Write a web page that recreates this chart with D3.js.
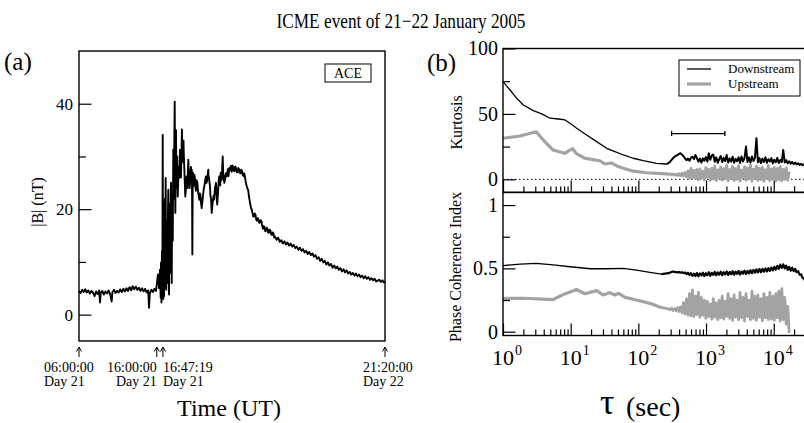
<!DOCTYPE html>
<html lang="en">
<head>
<meta charset="UTF-8">
<title>ICME event of 21-22 January 2005</title>
<script src="https://d3js.org/d3.v7.min.js"></script>
<style>
  body { margin: 0; background: #fff; }
  svg { display: block; }
  .axis path { display: none; }
  .axis line { stroke: #000; stroke-width: 1.2; }
  .axis text { fill: #000; }
</style>
</head>
<body>
<svg width="804" height="423"></svg>
<script>
// ---- panel (a): ACE |B| time series, time in hours from 00:00 Day 21 ----
const bTime = [
  6.0, 6.2, 6.4, 6.6, 6.8, 7.0, 7.2, 7.4, 7.6, 7.8, 8.0, 8.2, 8.4, 8.6, 8.7, 8.8, 9.0, 9.2, 9.4, 9.6,
  9.8, 10.0, 10.2, 10.3, 10.5, 10.7, 10.9, 11.1, 11.3, 11.5, 11.7, 11.9, 12.1, 12.3, 12.5, 12.7, 12.9, 13.1, 13.3, 13.5,
  13.7, 13.9, 14.1, 14.3, 14.5, 14.7, 14.9, 15.0, 15.1, 15.3, 15.5, 15.7, 15.9,
  16.15, 16.30, 16.41, 16.50, 16.54, 16.60, 16.66, 16.71, 16.76, 16.80, 16.84, 16.88, 16.93, 16.98, 17.03, 17.08,
  17.14, 17.18, 17.22, 17.27, 17.31, 17.36, 17.40, 17.44, 17.48, 17.53, 17.57, 17.62, 17.66, 17.70, 17.74, 17.79,
  17.83, 17.88, 17.92, 17.96, 17.99, 18.05, 18.12, 18.17, 18.21, 18.26, 18.30, 18.34, 18.38, 18.43, 18.47, 18.52,
  18.56, 18.62, 18.69, 18.75, 18.81, 18.90, 18.98, 19.04, 19.10, 19.17, 19.23, 19.28, 19.33, 19.38, 19.43, 19.48,
  19.53, 19.60, 19.66, 19.75, 19.84, 19.89, 19.94, 20.00, 20.05, 20.11, 20.16, 20.22, 20.27, 20.33, 20.40, 20.45,
  20.49, 20.53, 20.57, 20.61, 20.65, 20.72, 20.78, 20.85, 20.91, 20.98, 21.04, 21.12, 21.21, 21.27, 21.33, 21.40,
  21.46, 21.54, 21.62, 21.70, 21.77, 21.82, 21.87, 21.93, 21.98, 22.05, 22.13, 22.22, 22.32, 22.38, 22.45, 22.54,
  22.62, 22.66, 22.71, 22.78, 22.84, 22.90, 22.97, 23.02, 23.06, 23.13, 23.20, 23.28, 23.35, 23.42, 23.48, 23.55,
  23.61, 23.66, 23.70, 23.77, 23.84, 23.90, 23.97, 24.03, 24.10, 24.15, 24.21, 24.28, 24.34, 24.40, 24.47, 24.53,
  24.60, 24.68, 24.77, 24.84, 24.90, 24.98, 25.06, 25.14, 25.22, 25.31, 25.41, 25.52, 25.63, 25.72, 25.80, 25.90,
  25.99, 26.08, 26.18, 26.28, 26.38, 26.47, 26.57, 26.66, 26.76, 26.85, 26.95, 27.04, 27.14, 27.24, 27.34, 27.43,
  27.53, 27.64, 27.76, 27.84, 27.91, 28.01, 28.11, 28.20, 28.30, 28.40, 28.49, 28.59, 28.69, 28.78, 28.88, 28.97,
  29.07, 29.17, 29.27, 29.36, 29.46, 29.55, 29.65, 29.75, 29.84, 29.94, 30.04, 30.13, 30.23, 30.33, 30.42, 30.52,
  30.61, 30.71, 30.81, 30.90, 31.00, 31.10,
  31.2, 31.4, 31.6, 31.8, 32.0, 32.2, 32.4, 32.6, 32.8, 33.0, 33.2, 33.4, 33.6, 33.8, 34.0, 34.2, 34.4, 34.6, 34.8, 35.0,
  35.2, 35.4, 35.6, 35.8, 36.0, 36.2, 36.4, 36.6, 36.8, 37.0, 37.2, 37.4, 37.6, 37.8, 38.0, 38.2, 38.4, 38.6, 38.8, 39.0,
  39.2, 39.4, 39.6, 39.8, 40.0, 40.2, 40.4, 40.6, 40.8, 41.0, 41.2, 41.4, 41.6, 41.8, 42.0, 42.2, 42.4, 42.6, 42.8, 43.0,
  43.2, 43.4, 43.6, 43.8, 44.0, 44.2, 44.6, 44.8, 45.0, 45.2, 45.33
];
const bField = [
  4.5, 4.1, 4.7, 4.3, 4.8, 4.2, 4.6, 4.0, 4.5, 4.2, 3.5, 4.4, 3.9, 4.6, 2.3, 4.1, 4.5, 3.8, 4.4, 4.0,
  4.6, 3.9, 2.5, 4.3, 4.7, 4.1, 4.5, 4.2, 4.8, 4.3, 4.9, 4.4, 5.0, 4.5, 5.2, 4.6, 5.4, 4.8, 5.3, 4.7,
  5.1, 4.5, 5.0, 4.4, 4.9, 4.2, 4.6, 1.3, 4.0, 4.7, 4.3, 4.9, 4.5,
  7.6, 5.0, 8.5, 3.2, 9.9, 2.3, 12.0, 3.0, 34.1, 6.0, 3.0, 20.0, 3.5, 12.0, 22.0, 5.0,
  25.9, 8.0, 4.7, 18.0, 7.0, 15.0, 6.0, 20.0, 23.7, 8.0, 3.8, 16.0, 21.0, 9.0, 8.0, 22.0,
  25.0, 12.0, 6.0, 20.0, 22.0, 14.0, 31.3, 22.0, 27.0, 34.0, 40.4, 30.0, 19.3, 28.0, 35.0, 24.0,
  26.9, 30.0, 22.4, 25.0, 28.0, 26.0, 31.3, 28.0, 26.0, 30.0, 35.1, 31.0, 29.0, 32.0, 33.0, 30.0,
  28.0, 25.0, 22.4, 24.0, 26.2, 25.0, 24.0, 27.0, 29.4, 27.0, 26.0, 24.0, 25.0, 27.0, 28.0, 26.5,
  27.5, 24.0, 11.4, 24.0, 26.9, 25.0, 24.5, 26.5, 25.6, 24.0, 23.5, 25.5, 25.0, 24.0, 23.0, 22.5,
  21.8, 23.0, 22.5, 21.0, 20.2, 21.0, 21.5, 22.5, 23.1, 24.0, 24.5, 25.5, 26.2, 25.0, 25.3, 26.5,
  27.5, 26.0, 26.0, 25.0, 24.3, 22.5, 22.0, 20.5, 19.3, 20.5, 21.5, 22.5, 21.8, 23.0, 24.0, 24.5,
  25.0, 23.0, 22.0, 20.9, 22.5, 24.0, 25.5, 26.2, 25.0, 24.5, 26.9, 26.0, 25.5, 27.5, 30.0, 27.0,
  26.0, 25.0, 25.6, 26.5, 26.8, 26.2, 26.9, 27.6, 26.3, 27.8, 27.4, 28.2, 27.1, 28.3, 28.0, 27.3,
  27.2, 28.1, 27.8, 27.0, 27.0, 27.8, 27.6, 26.9, 26.8, 27.5, 27.2, 26.5, 26.3, 26.8, 26.0, 25.2,
  24.5, 24.0, 23.5, 22.5, 21.8, 21.0, 20.2, 20.0, 19.3, 18.6, 18.6, 19.2, 18.9, 18.0, 17.8, 18.3,
  18.1, 17.4, 17.5, 17.9, 17.7, 16.8, 16.3, 16.8, 16.6, 15.8, 15.9, 16.5, 16.3, 15.5, 15.6, 16.1,
  15.9, 15.2, 15.1, 15.6, 15.4, 14.6,
  14.8, 14.2, 14.6, 13.8, 14.1, 13.5, 13.9, 13.3, 13.7, 13.1, 13.5, 12.9, 13.2, 12.6, 12.9, 12.3, 12.7, 12.1, 12.4, 11.8,
  12.1, 11.5, 11.9, 11.3, 11.6, 11.0, 11.3, 10.6, 10.9, 10.2, 10.6, 9.9, 10.2, 9.5, 9.9, 9.3, 9.6, 8.9, 9.3, 8.8,
  9.1, 8.5, 8.8, 8.2, 8.6, 8.0, 8.4, 7.8, 8.1, 7.6, 7.9, 7.4, 7.8, 7.3, 7.6, 7.1, 7.4, 6.9, 7.3, 6.8,
  7.1, 6.6, 6.9, 6.5, 6.8, 6.3, 6.6, 6.2, 6.5, 6.1, 6.3
];
const bTicks = [0, 20, 40];
const bMinorTicks = [10, 30];
const markTimes = [6.0, 16.0, 16.7886, 45.3333];
const markLabels = [["06:00:00", "Day 21"], ["16:00:00", "Day 21"], ["16:47:19", "Day 21"], ["21:20:00", "Day 22"]];

// ---- panel (b): kurtosis and phase coherence index vs lag tau (sec) ----
const kurtDownTau = [1, 1.27, 1.59, 2, 2.8, 3.73, 4.95, 6.56, 8.24, 9.77, 12.3, 17.2, 24.2, 34, 45, 60, 84, 118, 186, 262];
const kurtDownVal = [74.7, 68.3, 62, 56.8, 52.5, 50, 46.7, 46.1, 45.4, 42.8, 39, 33.9, 28.8, 23.7, 21.1, 18.6, 16.1, 14.3, 12.2, 11.7];
const kurtUpTau = [1, 1.78, 3.1, 3.94, 5.5, 8.2, 9.2, 10.7, 12, 16.2, 20.4, 27, 32, 40, 48, 60, 84, 133, 262];
const kurtUpVal = [31.4, 33.1, 36.4, 30, 22.4, 19.9, 21.5, 23.4, 19.9, 16.1, 15.3, 14.2, 11.7, 12.5, 10.2, 8.5, 6.2, 5.0, 4.1];
const pciDownTau = [1, 1.8, 3.1, 5.5, 9.8, 19.6, 34, 60, 94, 148, 220];
const pciDownVal = [0.522, 0.534, 0.54, 0.527, 0.513, 0.497, 0.497, 0.5, 0.487, 0.469, 0.455];
const pciUpTau = [1, 2, 5.5, 7.5, 12.2, 16.2, 24.2, 30, 37.5, 45, 51, 64, 94, 148, 207];
const pciUpVal = [0.262, 0.264, 0.253, 0.29, 0.333, 0.30, 0.324, 0.29, 0.308, 0.29, 0.303, 0.271, 0.25, 0.224, 0.195];

// long lags, where the estimates get noisy
const tauLong = [280, 295, 310, 326, 343, 361, 380, 400, 420, 442, 465, 489, 515, 541, 569, 599, 630, 663, 697, 733,
  771, 811, 853, 897, 944, 993, 1045, 1099, 1156, 1216, 1279, 1345, 1415, 1489, 1566, 1647, 1733, 1823, 1917, 2017,
  2122, 2232, 2348, 2470, 2598, 2733, 2875, 3024, 3181, 3347, 3521, 3704, 3896, 4099, 4312, 4536, 4772, 5020, 5281, 5555,
  5844, 6148, 6467, 6804, 7157, 7530, 7921, 8333, 8766, 9222, 9701, 10206, 10736, 11295, 11882, 12500, 13150, 13833, 14553, 15309,
  16105, 16943, 17824, 18750, 19725, 20750, 21829, 22965, 24159, 25415, 26737, 28127, 29590];
const kurtDownLong = [12.5, 13.5, 14.8, 16.2, 17.4, 18.0, 18.6, 19.5, 19.9, 18.8,
  17.6, 16.0, 14.6, 15.8, 14.2, 16.5, 17.3, 15.5, 18.6, 16.2, 13.5, 15.8, 12.8, 16.0, 14.2, 17.0, 13.6, 19.9, 15.0, 18.2,
  19.0, 13.4, 16.8, 12.6, 15.5, 17.8, 13.2, 16.4, 14.0, 18.6, 12.8, 16.0, 13.5, 17.2, 12.6, 15.6, 13.8, 16.8, 12.5, 17.5,
  13.6, 16.2, 25.0, 13.2, 16.8, 12.8, 17.4, 14.0, 16.6, 31.4, 13.0, 16.2, 12.4, 15.8, 13.2, 16.9, 12.6, 15.4, 13.6, 16.2,
  12.2, 15.0, 13.0, 16.4, 12.4, 14.8, 13.2, 22.4, 12.8, 14.6, 12.2, 13.8, 12.0, 13.2, 11.6, 12.8, 11.4, 12.2, 11.0, 11.8,
  10.8, 11.4, 10.6];
const kurtUpLong = [3.8, 4.3, 3.5, 4.1, 3.2, 4.0, 3.0, 4.4, 2.8, 4.6,
  2.5, 5.2, 1.8, 6.5, 0.8, 8.4, 1.2, 6.8, 0.5, 7.5, -0.3, 8.0, 0.8, 6.2, -0.5, 9.0, 1.5, 7.8, -0.8, 8.6,
  0.2, 10.2, -1.0, 7.2, 1.0, 9.4, -0.6, 8.2, 0.4, 10.8, -1.2, 7.6, 0.6, 9.8, -0.9, 8.4, 0.0, 10.4, -1.4, 7.0,
  1.2, 9.6, -0.8, 8.8, 0.3, 11.0, -1.5, 7.8, 0.8, 10.0, -1.0, 8.6, -0.2, 9.4, -1.6, 7.4, 0.5, 10.6, -1.1, 8.0,
  0.2, 9.2, -1.4, 8.4, -0.4, 9.8, -1.2, 7.6, 0.0, 8.8, -0.8, 6.0];
const pciDownLong = [0.462, 0.468, 0.472, 0.475, 0.472, 0.470, 0.468, 0.472, 0.466, 0.470,
  0.462, 0.468, 0.455, 0.466, 0.448, 0.462, 0.442, 0.458, 0.440, 0.463, 0.438, 0.460, 0.445, 0.466, 0.440, 0.462, 0.446, 0.470, 0.442, 0.465,
  0.448, 0.472, 0.445, 0.468, 0.450, 0.474, 0.446, 0.470, 0.452, 0.476, 0.448, 0.472, 0.454, 0.478, 0.450, 0.474, 0.456, 0.480, 0.452, 0.476,
  0.458, 0.482, 0.455, 0.480, 0.460, 0.486, 0.462, 0.488, 0.466, 0.492, 0.468, 0.495, 0.470, 0.496, 0.474, 0.500, 0.476, 0.502, 0.480, 0.506,
  0.484, 0.512, 0.490, 0.520, 0.496, 0.530, 0.504, 0.532, 0.500, 0.522, 0.488, 0.512, 0.482, 0.505, 0.478, 0.495, 0.470, 0.478, 0.450, 0.452,
  0.425, 0.418, 0.395];
const pciUpLong = [0.180, 0.172, 0.185, 0.168, 0.182, 0.165, 0.190, 0.160, 0.195, 0.150,
  0.230, 0.140, 0.260, 0.130, 0.300, 0.125, 0.330, 0.120, 0.280, 0.135, 0.310, 0.115, 0.270, 0.130, 0.250, 0.105, 0.240, 0.120, 0.220, 0.100,
  0.260, 0.115, 0.230, 0.095, 0.250, 0.110, 0.280, 0.100, 0.240, 0.120, 0.300, 0.105, 0.260, 0.090, 0.290, 0.115, 0.250, 0.095, 0.310, 0.110,
  0.270, 0.085, 0.300, 0.120, 0.250, 0.095, 0.320, 0.105, 0.280, 0.090, 0.290, 0.115, 0.260, 0.085, 0.300, 0.110, 0.270, 0.095, 0.310, 0.100,
  0.280, 0.090, 0.300, 0.110, 0.320, 0.085, 0.340, 0.095, 0.270, 0.060, 0.200, -0.010];

const kurtTicks = [0, 50, 100];
const kurtMinorTicks = [25, 75];
const pciTicks = [0, 0.5, 1];
const pciMinorTicks = [0.25, 0.75];
const decades = [1, 10, 100, 1000, 10000];
const rangeBarTau = [310, 1900];
const rangeBarLevel = 35;

const serif = '"Liberation Serif", "Times New Roman", serif';
const grey = "#a3a3a3";

const svg = d3.select("svg").attr("font-family", serif);
svg.append("rect").attr("width", 804).attr("height", 423).attr("fill", "#fff");

svg.append("text").attr("x", 401).attr("y", 28).attr("text-anchor", "middle")
  .attr("font-size", 21).attr("textLength", 249).attr("lengthAdjust", "spacingAndGlyphs")
  .text("ICME event of 21\u221222 January 2005");

// ================= panel (a) =================
const A = { left: 79, right: 385, top: 51, bottom: 341 };
const xA = d3.scaleLinear().domain([6, 45.3333]).range([A.left, A.right]);
const yA = d3.scaleLinear().domain([-5, 50]).range([A.bottom, A.top]);

svg.append("text").attr("x", 4).attr("y", 70).attr("font-size", 25).text("(a)");

svg.append("path")
  .datum(d3.zip(bTime, bField))
  .attr("fill", "none").attr("stroke", "#000").attr("stroke-width", 1.9)
  .attr("stroke-linejoin", "round")
  .attr("d", d3.line().x(d => xA(d[0])).y(d => yA(d[1])));

svg.append("rect").attr("x", A.left).attr("y", A.top)
  .attr("width", A.right - A.left).attr("height", A.bottom - A.top)
  .attr("fill", "none").attr("stroke", "#000").attr("stroke-width", 1.4);

svg.append("g").attr("class", "axis").attr("transform", `translate(${A.left},0)`)
  .call(d3.axisLeft(yA).tickValues(bTicks).tickSizeInner(-12.5).tickSizeOuter(0).tickPadding(6))
  .attr("font-family", serif).attr("font-size", 17);
svg.append("g").attr("class", "axis").attr("transform", `translate(${A.left},0)`)
  .call(d3.axisLeft(yA).tickValues(bMinorTicks).tickSizeInner(-7).tickSizeOuter(0).tickFormat(""));

svg.append("text")
  .attr("transform", `translate(43,${(A.top + A.bottom) / 2 + 6}) rotate(-90)`)
  .attr("text-anchor", "middle").attr("font-size", 16).text("|B| (nT)");

svg.append("g").attr("class", "ace").call(g => {
  g.append("rect").attr("x", 325).attr("y", 64).attr("width", 46).attr("height", 18)
    .attr("fill", "#fff").attr("stroke", "#000").attr("stroke-width", 1);
  g.append("text").attr("x", 348).attr("y", 78).attr("text-anchor", "middle")
    .attr("font-size", 14).text("ACE");
});

// time markers below the frame
const labelShift = [-35, 0, 0, -22];
const labelAnchor = ["start", "end", "start", "start"];
markTimes.forEach((t, i) => {
  const x = xA(t);
  svg.append("line").attr("x1", x).attr("x2", x).attr("y1", 347).attr("y2", 357)
    .attr("stroke", "#000").attr("stroke-width", 1);
  svg.append("path").attr("d", `M${x - 2.5},351.5L${x},347L${x + 2.5},351.5`)
    .attr("fill", "none").attr("stroke", "#000").attr("stroke-width", 1);
  const lab = svg.append("text").attr("font-size", 14).attr("text-anchor", labelAnchor[i]);
  lab.append("tspan").attr("x", x + labelShift[i]).attr("y", 372).text(markLabels[i][0]);
  lab.append("tspan").attr("x", x + labelShift[i]).attr("y", 386).text(markLabels[i][1]);
});

svg.append("text").attr("x", 229).attr("y", 416).attr("text-anchor", "middle")
  .attr("font-size", 24).text("Time (UT)");

// ================= panel (b) =================
const B = { left: 503, right: 806, top: 48.5, mid: 192.4, bottom: 335.5 };
const xB = d3.scaleLog().domain([1, 3e4]).range([B.left, B.right]);
const yK = d3.scaleLinear().domain([-10, 100]).range([B.mid, B.top]);
const yP = d3.scaleLinear().domain([-0.03, 1.1]).range([B.bottom, B.mid]);

svg.append("text").attr("x", 427).attr("y", 71).attr("font-size", 25).text("(b)");

const shortPart = (tau, val) => d3.zip(tau, val);
const longPart = (tau, val, longVal) =>
  [[tau[tau.length - 1], val[val.length - 1]]].concat(longVal.map((v, i) => [tauLong[i], v]));

svg.append("defs").append("clipPath").attr("id", "clipB")
  .append("rect").attr("x", B.left).attr("y", B.top)
  .attr("width", B.right - B.left).attr("height", B.bottom - B.top);

// zero line for kurtosis
svg.append("line").attr("x1", B.left).attr("x2", B.right)
  .attr("y1", yK(0)).attr("y2", yK(0))
  .attr("stroke", "#000").attr("stroke-width", 1).attr("stroke-dasharray", "1.5,2.5");

const plotB = svg.append("g").attr("clip-path", "url(#clipB)");
const lineK = d3.line().x(d => xB(d[0])).y(d => yK(d[1]));
const lineP = d3.line().x(d => xB(d[0])).y(d => yP(d[1]));

function drawSeries(line, tau, val, longVal, colour, w, wLong) {
  plotB.append("path").datum(shortPart(tau, val))
    .attr("fill", "none").attr("stroke", colour).attr("stroke-width", w)
    .attr("stroke-linejoin", "round").attr("stroke-linecap", "round").attr("d", line);
  plotB.append("path").datum(longPart(tau, val, longVal))
    .attr("fill", "none").attr("stroke", colour).attr("stroke-width", wLong)
    .attr("stroke-linejoin", "round").attr("d", line);
}
drawSeries(lineK, kurtUpTau, kurtUpVal, kurtUpLong, grey, 3.2, 2.8);
drawSeries(lineK, kurtDownTau, kurtDownVal, kurtDownLong, "#000", 1.3, 2.0);
drawSeries(lineP, pciUpTau, pciUpVal, pciUpLong, grey, 3.2, 2.8);
drawSeries(lineP, pciDownTau, pciDownVal, pciDownLong, "#000", 1.3, 2.2);

// range bar in the kurtosis panel
const barY = yK(rangeBarLevel);
svg.append("path")
  .attr("d", `M${xB(rangeBarTau[0])},${barY}H${xB(rangeBarTau[1])}` +
    `M${xB(rangeBarTau[0])},${barY - 2.5}V${barY + 2.5}M${xB(rangeBarTau[1])},${barY - 2.5}V${barY + 2.5}`)
  .attr("fill", "none").attr("stroke", "#000").attr("stroke-width", 1.3);

// frames (right edge falls outside the picture)
[[B.top, B.mid], [B.mid, B.bottom]].forEach(([t, b]) => {
  svg.append("rect").attr("x", B.left).attr("y", t)
    .attr("width", B.right - B.left).attr("height", b - t)
    .attr("fill", "none").attr("stroke", "#000").attr("stroke-width", 1.4);
});

const minorTau = decades.flatMap(d => [2, 3, 4, 5, 6, 7, 8, 9].map(m => m * d)).filter(v => v < 3e4);
[B.mid, B.bottom].forEach(yy => {
  svg.append("g").attr("class", "axis").attr("transform", `translate(0,${yy})`)
    .call(d3.axisBottom(xB).tickValues(decades).tickSizeInner(-12).tickSizeOuter(0).tickFormat(""));
  svg.append("g").attr("class", "axis").attr("transform", `translate(0,${yy})`)
    .call(d3.axisBottom(xB).tickValues(minorTau).tickSizeInner(-6).tickSizeOuter(0).tickFormat(""));
});

svg.append("g").attr("class", "axis").attr("transform", `translate(${B.left},0)`)
  .call(d3.axisLeft(yK).tickValues(kurtTicks).tickSizeInner(-12.5).tickSizeOuter(0).tickPadding(5))
  .attr("font-family", serif).attr("font-size", 20);
svg.append("g").attr("class", "axis").attr("transform", `translate(${B.left},0)`)
  .call(d3.axisLeft(yK).tickValues(kurtMinorTicks).tickSizeInner(-7).tickSizeOuter(0).tickFormat(""));
svg.append("g").attr("class", "axis").attr("transform", `translate(${B.left},0)`)
  .call(d3.axisLeft(yP).tickValues(pciTicks).tickSizeInner(-12.5).tickSizeOuter(0).tickPadding(5)
    .tickFormat(d3.format("~g")))
  .attr("font-family", serif).attr("font-size", 20);
svg.append("g").attr("class", "axis").attr("transform", `translate(${B.left},0)`)
  .call(d3.axisLeft(yP).tickValues(pciMinorTicks).tickSizeInner(-7).tickSizeOuter(0).tickFormat(""));

// 10^n labels
decades.forEach(d => {
  const x = xB(d);
  svg.append("text").attr("x", x).attr("y", 365).attr("text-anchor", "middle")
    .attr("font-size", 22).text("10");
  svg.append("text").attr("x", x + 12).attr("y", 355).attr("font-size", 14)
    .text(Math.round(Math.log10(d)));
});

svg.append("text")
  .attr("transform", `translate(462,${(B.top + B.mid) / 2 + 2}) rotate(-90)`)
  .attr("text-anchor", "middle").attr("font-size", 16).text("Kurtosis");
svg.append("text")
  .attr("transform", `translate(461,${(B.mid + B.bottom) / 2 + 3}) rotate(-90)`)
  .attr("text-anchor", "middle").attr("font-size", 16).text("Phase Coherence Index");

svg.append("text").attr("x", 600).attr("y", 414).attr("font-size", 36).text("\u03c4");
svg.append("text").attr("x", 626).attr("y", 416).attr("font-size", 28).text("(sec)");

// legend
const leg = svg.append("g");
leg.append("rect").attr("x", 679).attr("y", 60).attr("width", 121).attr("height", 36)
  .attr("fill", "#fff").attr("stroke", "#000").attr("stroke-width", 1);
leg.append("line").attr("x1", 687).attr("x2", 711).attr("y1", 69).attr("y2", 69)
  .attr("stroke", "#000").attr("stroke-width", 1.3);
leg.append("line").attr("x1", 687).attr("x2", 711).attr("y1", 84).attr("y2", 84)
  .attr("stroke", grey).attr("stroke-width", 3.2);
leg.append("text").attr("x", 728).attr("y", 73).attr("font-size", 13).text("Downstream");
leg.append("text").attr("x", 728).attr("y", 88).attr("font-size", 13).text("Upstream");
</script>
</body>
</html>
